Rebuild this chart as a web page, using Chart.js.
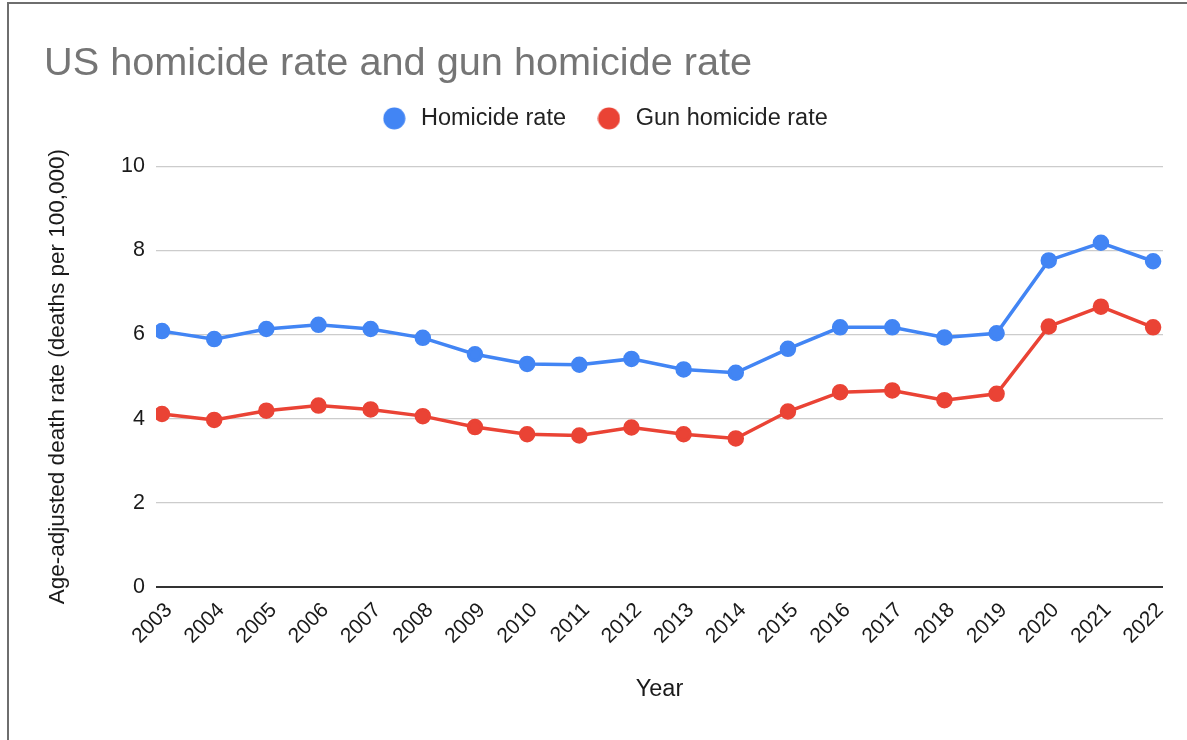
<!DOCTYPE html>
<html>
<head>
<meta charset="utf-8">
<script src="https://cdn.jsdelivr.net/npm/chart.js@4.4.1/dist/chart.umd.min.js"></script>
<style>
  html, body { margin: 0; padding: 0; background: #fff; }
  #wrap { position: relative; width: 1187px; height: 740px; overflow: hidden; }
  #frame { position: absolute; left: 7px; top: 2px; width: 1300px; height: 800px;
           border-left: 2px solid #6e6e6e; border-top: 2px solid #6e6e6e; pointer-events: none; }
  canvas { position: absolute; left: 0; top: 0; }
</style>
</head>
<body>
<div id="wrap">
  <canvas id="chart" width="1187" height="740"></canvas>
  <div id="frame"></div>
</div>
<script>
const years = [2003, 2004, 2005, 2006, 2007, 2008, 2009, 2010, 2011, 2012,
               2013, 2014, 2015, 2016, 2017, 2018, 2019, 2020, 2021, 2022];
const homicideRate = [6.08, 5.89, 6.13, 6.23, 6.13, 5.92, 5.53, 5.30, 5.28, 5.42,
                      5.17, 5.09, 5.66, 6.17, 6.17, 5.93, 6.03, 7.76, 8.18, 7.74];
const gunHomicideRate = [4.11, 3.97, 4.19, 4.31, 4.22, 4.06, 3.80, 3.63, 3.60, 3.79,
                         3.63, 3.53, 4.17, 4.63, 4.67, 4.44, 4.59, 6.19, 6.66, 6.17];
const yTicks = [0, 2, 4, 6, 8, 10];

const blue = "#4285f4";
const red = "#ea4335";
const FONT = "Arial, 'Liberation Sans', sans-serif";

// round legend marker, drawn on a small canvas so it can sit left of a wider box
function legendDot(color) {
  const c = document.createElement("canvas");
  c.width = 23;
  c.height = 23;
  const g = c.getContext("2d");
  g.fillStyle = color;
  g.beginPath();
  g.arc(11.5, 11.5, 11, 0, Math.PI * 2);
  g.fill();
  return c;
}
const dots = [legendDot(blue), legendDot(red)];

// push the plot down a bit below the legend
const legendGap = {
  id: "legendGap",
  beforeInit(chart) {
    const fit = chart.legend.fit;
    chart.legend.fit = function () {
      fit.call(this);
      this.height += 26;
    };
  },
};

const toPoints = (vals) => years.map((yr, i) => ({ x: yr, y: vals[i] }));

new Chart(document.getElementById("chart"), {
  type: "line",
  data: {
    datasets: [
      {
        label: "Homicide rate",
        data: toPoints(homicideRate),
        borderColor: blue,
        backgroundColor: blue,
        borderWidth: 3.5,
        pointRadius: 6.5,
        pointHoverRadius: 6.5,
        tension: 0,
      },
      {
        label: "Gun homicide rate",
        data: toPoints(gunHomicideRate),
        borderColor: red,
        backgroundColor: red,
        borderWidth: 3.5,
        pointRadius: 6.5,
        pointHoverRadius: 6.5,
        tension: 0,
      },
    ],
  },
  options: {
    responsive: false,
    animation: false,
    layout: { padding: { top: 30, left: 44, right: 24, bottom: 32 } },
    plugins: {
      title: {
        display: true,
        text: "US homicide rate and gun homicide rate",
        align: "start",
        color: "#757575",
        font: { family: FONT, size: 39.7, weight: "normal" },
        padding: { top: 10, bottom: -9 },
      },
      legend: {
        position: "top",
        labels: {
          usePointStyle: true,
          pointStyleWidth: 30,
          boxHeight: 23,
          padding: 28,
          color: "#222",
          font: { family: FONT, size: 23.5 },
          generateLabels: (chart) =>
            Chart.defaults.plugins.legend.labels.generateLabels(chart).map((item, i) => ({
              ...item,
              pointStyle: dots[i],
            })),
        },
      },
      tooltip: { enabled: false },
    },
    scales: {
      x: {
        type: "linear",
        min: 2002.885,
        max: 2022.19,
        afterBuildTicks: (axis) => {
          axis.ticks = years.map((v) => ({ value: v }));
        },
        afterFit: (axis) => {
          axis.height = 121;
        },
        grid: { display: false, drawTicks: false },
        border: { display: false },
        ticks: {
          autoSkip: false,
          minRotation: 45,
          maxRotation: 45,
          padding: 11,
          labelOffset: 7,
          color: "#1a1a1a",
          font: { family: FONT, size: 21 },
          callback: (v) => String(v),
        },
        title: {
          display: true,
          text: "Year",
          color: "#1a1a1a",
          font: { family: FONT, size: 23.5 },
          padding: { top: 4, bottom: 4 },
        },
      },
      y: {
        min: 0,
        max: 10,
        afterBuildTicks: (axis) => {
          axis.ticks = yTicks.map((v) => ({ value: v }));
        },
        afterFit: (axis) => {
          axis.width = 112;
        },
        grid: {
          drawTicks: false,
          color: (ctx) => (ctx.tick && ctx.tick.value === 0 ? "#333" : "#cccccc"),
          lineWidth: (ctx) => (ctx.tick && ctx.tick.value === 0 ? 2 : 1.2),
        },
        border: { display: false },
        ticks: {
          padding: 11,
          color: "#1a1a1a",
          font: { family: FONT, size: 21.5 },
        },
        title: {
          display: true,
          text: "Age-adjusted death rate (deaths per 100,000)",
          color: "#1a1a1a",
          font: { family: FONT, size: 22.5 },
          padding: { top: 0, bottom: 4 },
        },
      },
    },
  },
  plugins: [legendGap],
});
</script>
</body>
</html>
